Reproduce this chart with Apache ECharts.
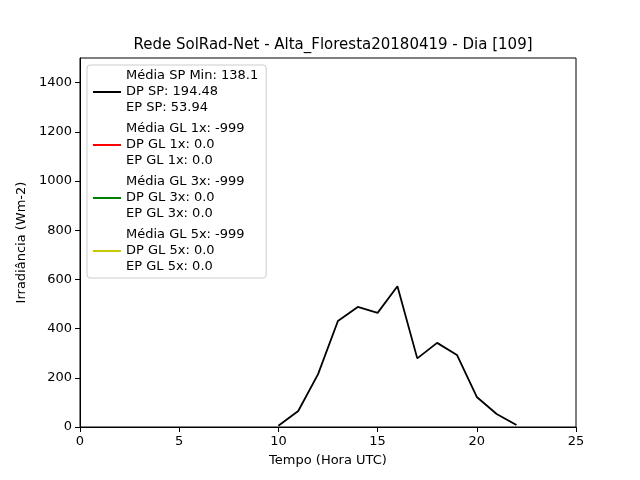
<!DOCTYPE html>
<html>
<head>
<meta charset="utf-8">
<script src="https://cdn.jsdelivr.net/npm/echarts@6/dist/echarts.min.js"></script>
<style>html,body{margin:0;padding:0;background:#fff}#chart{width:640px;height:480px}</style>
</head>
<body>
<div id="chart"></div>
<script>
// dados
var horas = [10, 11, 12, 13, 14, 15, 16, 17, 18, 19, 20, 21, 22];
var irradSP = [5, 65, 215, 431, 488, 464, 572, 279, 342, 293, 122, 53, 8];
var nomes = [
	'Média SP Min: 138.1\nDP SP: 194.48\nEP SP: 53.94',
	'Média GL 1x: -999\nDP GL 1x: 0.0\nEP GL 1x: 0.0',
	'Média GL 3x: -999\nDP GL 3x: 0.0\nEP GL 3x: 0.0',
	'Média GL 5x: -999\nDP GL 5x: 0.0\nEP GL 5x: 0.0'
];
var cores = ['#000000', '#ff0000', '#008000', '#c8c800'];

var pares = [];
for (var i = 0; i < horas.length; i++) {
	pares.push([horas[i], irradSP[i]]);
}

var series = [];
for (var k = 0; k < nomes.length; k++) {
	series.push({
		name: nomes[k],
		type: 'line',
		data: k == 0 ? pares : [],
		symbol: 'none',
		lineStyle: { color: cores[k], width: 1.8 },
		itemStyle: { color: cores[k] }
	});
}

var myChart = echarts.init(document.getElementById('chart'));
var fonte = 'DejaVu Sans';
myChart.setOption({
	animation: false,
	textStyle: { fontFamily: fonte },
	title: {
		text: 'Rede SolRad-Net - Alta_Floresta20180419 - Dia [109]',
		left: 328, top: 33, textAlign: 'center',
		textStyle: { fontSize: 15, fontWeight: 'normal', color: '#000', fontFamily: fonte }
	},
	grid: { left: 80, right: 64, top: 58, bottom: 53 },
	legend: {
		left: 87, top: 65, orient: 'vertical',
		data: nomes,
		itemWidth: 28, itemHeight: 2, itemGap: 5,
		icon: 'rect',
		padding: [3, 8, 3, 6],
		borderColor: '#cccccc', borderWidth: 1, borderRadius: 3,
		backgroundColor: '#fff',
		textStyle: { fontSize: 13, color: '#000', lineHeight: 16, fontFamily: fonte }
	},
	xAxis: {
		type: 'value', min: 0, max: 25, interval: 5,
		name: 'Tempo (Hora UTC)', nameLocation: 'middle', nameGap: 27,
		nameTextStyle: { fontSize: 13, color: '#000' },
		axisLine: { lineStyle: { color: '#000' } },
		axisTick: { show: true, lineStyle: { color: '#000' } },
		axisLabel: { color: '#000', fontSize: 13 },
		splitLine: { show: false }
	},
	yAxis: {
		type: 'value', min: 0, max: 1500, interval: 200,
		name: 'Irradiância (Wm-2)', nameLocation: 'middle', nameGap: 52,
		nameTextStyle: { fontSize: 13, color: '#000' },
		axisLine: { show: true, lineStyle: { color: '#000' } },
		axisTick: { show: true, lineStyle: { color: '#000' } },
		axisLabel: { color: '#000', fontSize: 13, showMaxLabel: false,
			formatter: function (v) { return String(v); } },
		splitLine: { show: false }
	},
	series: series
});
myChart.setOption({
	graphic: [{ type: 'rect', shape: { x: 80, y: 58, width: 496, height: 369 },
		style: { fill: 'none', stroke: '#000', lineWidth: 1 }, silent: true }]
});
</script>
</body>
</html>
